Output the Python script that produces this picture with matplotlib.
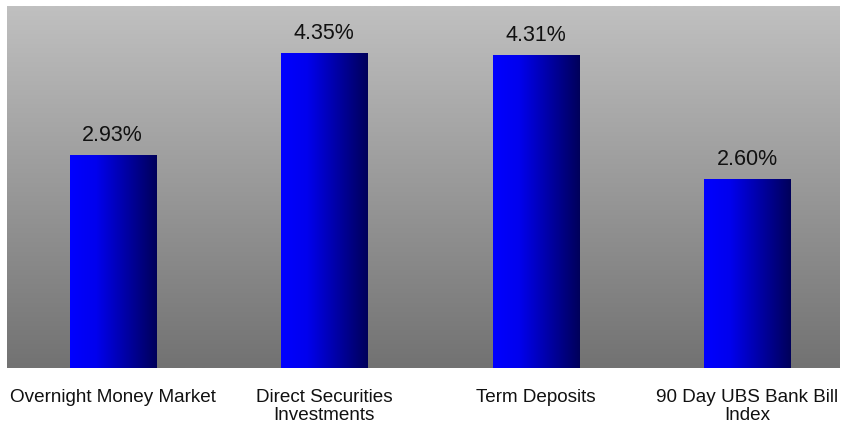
import numpy as np
import matplotlib.pyplot as plt
from matplotlib.colors import LinearSegmentedColormap

categories = ["Overnight Money Market", "Direct Securities\nInvestments",
              "Term Deposits", "90 Day UBS Bank Bill\nIndex"]
values = [2.93, 4.35, 4.31, 2.60]
value_labels = ["2.93%", "4.35%", "4.31%", "2.60%"]

plt.rcParams['font.family'] = ['Liberation Sans', 'DejaVu Sans']

fig = plt.figure(figsize=(8.42, 4.30), dpi=100)
ax = fig.add_axes([7/842, 1 - 368/430, 833/842, 362/430])
x0l, x1l = -0.5, 3.44

# grey vertical gradient for the plot area
bg = LinearSegmentedColormap.from_list("bg", ["#727272", "#c0c0c0"])
ax.imshow(np.linspace(0, 1, 256).reshape(-1, 1), cmap=bg, aspect="auto",
          extent=(x0l, x1l, 0, 5), origin="lower", zorder=0)

# blue bars with horizontal gradient
barcm = LinearSegmentedColormap.from_list(
    "bar", [(0, "#0000ff"), (0.3, "#0000ee"), (1, "#00005a")])
grad = np.linspace(0, 1, 256).reshape(1, -1)
w = 0.407
bars = ax.bar(range(len(values)), values, width=w, color="none", zorder=1)
for b, lab in zip(bars, value_labels):
    x0 = b.get_x()
    h = b.get_height()
    ax.imshow(grad, cmap=barcm, aspect="auto",
              extent=(x0, x0 + w, 0, h), zorder=2)
    ax.text(x0 + w / 2, h + 0.2, lab, ha="center", va="baseline",
            fontsize=15.5, color="#111111", zorder=3)

ax.set_xlim(x0l, x1l)
ax.set_ylim(0, 5)
for s in ax.spines.values():
    s.set_visible(False)
ax.set_yticks([])
ax.set_xticks(range(len(categories)))
ax.set_xticklabels(categories, fontsize=13.6, linespacing=1.1, color="#111111")
ax.tick_params(axis="x", length=0, pad=15)

fig.savefig("out.png", dpi=100)
